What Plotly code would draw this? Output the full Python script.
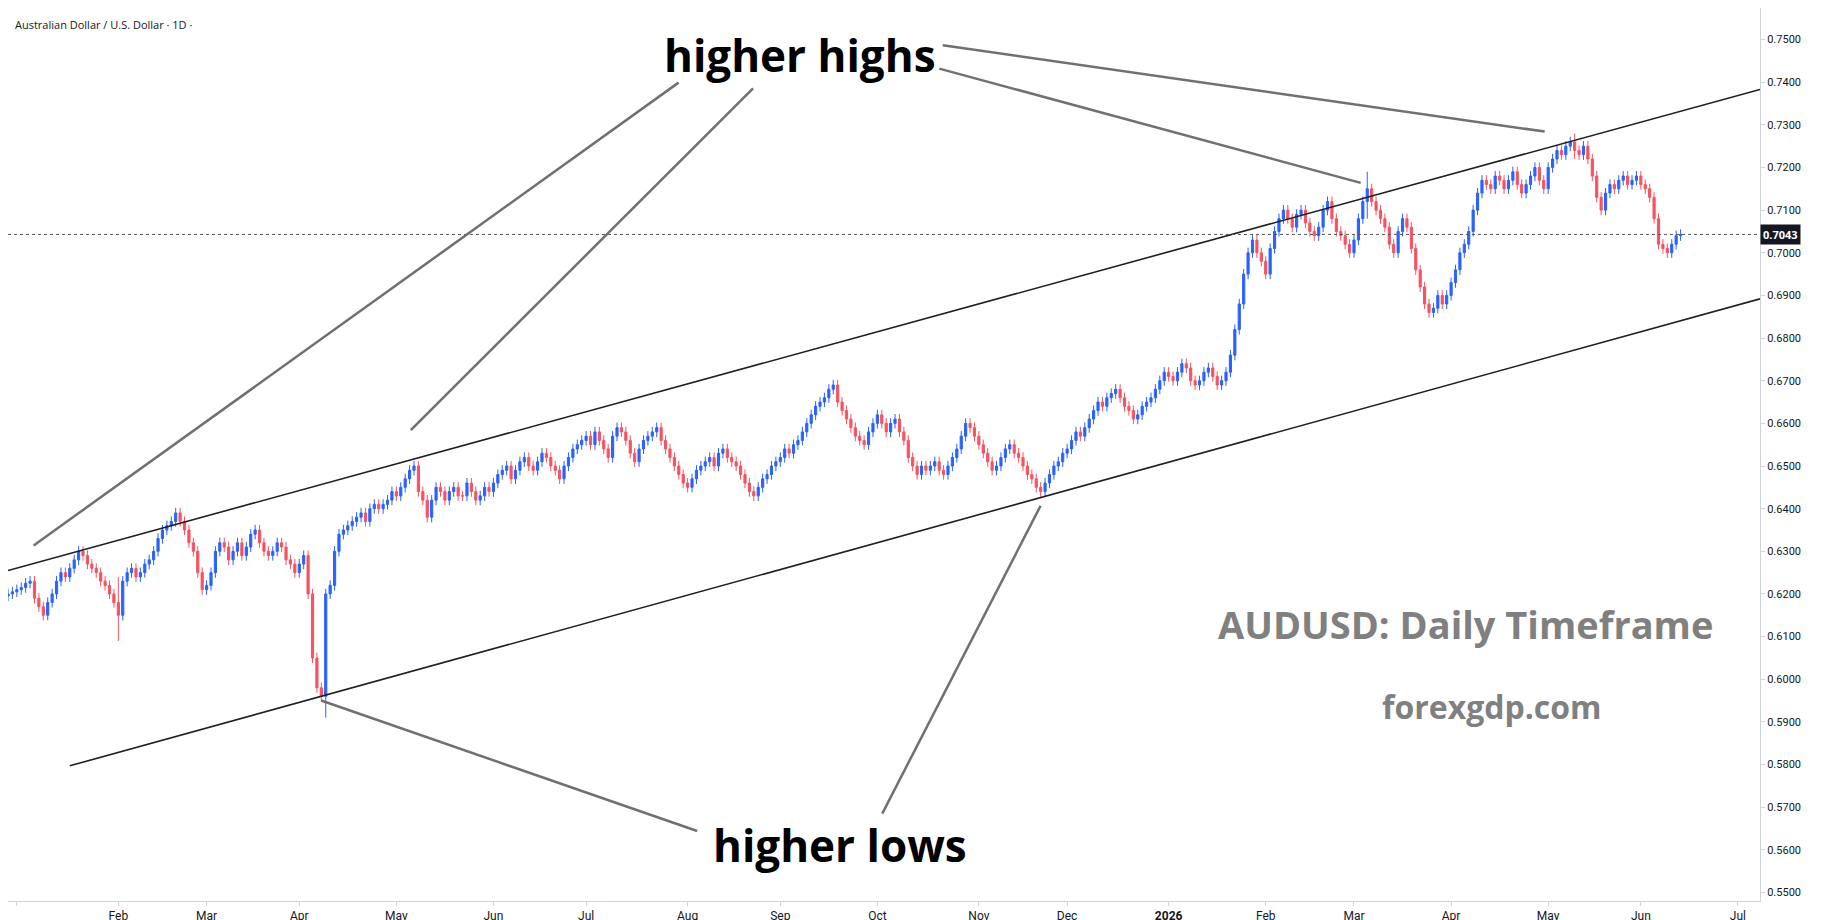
import pandas as pd
import plotly.graph_objects as go

# daily closes, one row per week (Mon..Fri), starting week of 2024-12-30
weekly_closes = [
    [0.6200, 0.6205, 0.6210, 0.6215, 0.6225],
    [0.6230, 0.6190, 0.6170, 0.6150, 0.6180],
    [0.6200, 0.6230, 0.6250, 0.6240, 0.6260],
    [0.6280, 0.6300, 0.6290, 0.6270, 0.6260],
    [0.6250, 0.6230, 0.6220, 0.6200, 0.6180],
    [0.6150, 0.6230, 0.6250, 0.6260, 0.6240],
    [0.6250, 0.6270, 0.6280, 0.6300, 0.6330],
    [0.6350, 0.6360, 0.6370, 0.6390, 0.6370],
    [0.6350, 0.6320, 0.6300, 0.6250, 0.6210],
    [0.6220, 0.6250, 0.6300, 0.6320, 0.6310],
    [0.6280, 0.6300, 0.6320, 0.6290, 0.6310],
    [0.6340, 0.6350, 0.6320, 0.6300, 0.6290],
    [0.6300, 0.6320, 0.6310, 0.6280, 0.6270],
    [0.6250, 0.6270, 0.6290, 0.6200, 0.6050],
    [0.5980, 0.5960, 0.6200, 0.6220, 0.6300],
    [0.6340, 0.6350, 0.6360, 0.6370, 0.6380],
    [0.6390, 0.6370, 0.6400, 0.6410, 0.6400],
    [0.6410, 0.6420, 0.6440, 0.6430, 0.6450],
    [0.6470, 0.6490, 0.6500, 0.6440, 0.6420],
    [0.6380, 0.6420, 0.6450, 0.6440, 0.6420],
    [0.6440, 0.6450, 0.6430, 0.6430, 0.6460],
    [0.6440, 0.6420, 0.6430, 0.6450, 0.6440],
    [0.6460, 0.6480, 0.6490, 0.6500, 0.6470],
    [0.6490, 0.6510, 0.6520, 0.6500, 0.6490],
    [0.6510, 0.6530, 0.6520, 0.6500, 0.6490],
    [0.6470, 0.6500, 0.6520, 0.6540, 0.6550],
    [0.6560, 0.6570, 0.6550, 0.6580, 0.6560],
    [0.6540, 0.6520, 0.6570, 0.6590, 0.6580],
    [0.6560, 0.6530, 0.6510, 0.6540, 0.6560],
    [0.6570, 0.6580, 0.6590, 0.6560, 0.6540],
    [0.6520, 0.6500, 0.6480, 0.6460, 0.6450],
    [0.6470, 0.6490, 0.6500, 0.6510, 0.6520],
    [0.6500, 0.6530, 0.6540, 0.6520, 0.6510],
    [0.6500, 0.6480, 0.6460, 0.6440, 0.6430],
    [0.6450, 0.6470, 0.6480, 0.6500, 0.6510],
    [0.6520, 0.6540, 0.6530, 0.6550, 0.6560],
    [0.6580, 0.6600, 0.6620, 0.6640, 0.6650],
    [0.6660, 0.6680, 0.6690, 0.6650, 0.6630],
    [0.6610, 0.6590, 0.6570, 0.6560, 0.6550],
    [0.6580, 0.6600, 0.6620, 0.6600, 0.6580],
    [0.6600, 0.6610, 0.6580, 0.6560, 0.6520],
    [0.6500, 0.6480, 0.6500, 0.6490, 0.6500],
    [0.6510, 0.6490, 0.6480, 0.6500, 0.6520],
    [0.6540, 0.6570, 0.6600, 0.6590, 0.6570],
    [0.6550, 0.6530, 0.6510, 0.6490, 0.6500],
    [0.6520, 0.6540, 0.6550, 0.6530, 0.6520],
    [0.6500, 0.6480, 0.6470, 0.6450, 0.6440],
    [0.6460, 0.6480, 0.6500, 0.6510, 0.6530],
    [0.6540, 0.6560, 0.6580, 0.6570, 0.6590],
    [0.6610, 0.6630, 0.6650, 0.6640, 0.6660],
    [0.6670, 0.6680, 0.6660, 0.6640, 0.6630],
    [0.6610, 0.6620, 0.6640, 0.6650, 0.6660],
    [0.6680, 0.6700, 0.6720, 0.6710, 0.6700],
    [0.6720, 0.6740, 0.6730, 0.6700, 0.6690],
    [0.6700, 0.6720, 0.6730, 0.6710, 0.6690],
    [0.6700, 0.6720, 0.6760, 0.6820, 0.6880],
    [0.6950, 0.7000, 0.7030, 0.7000, 0.6980],
    [0.6950, 0.7010, 0.7050, 0.7080, 0.7100],
    [0.7080, 0.7060, 0.7090, 0.7100, 0.7070],
    [0.7050, 0.7040, 0.7060, 0.7100, 0.7120],
    [0.7080, 0.7050, 0.7040, 0.7020, 0.7000],
    [0.7030, 0.7080, 0.7120, 0.7150, 0.7120],
    [0.7100, 0.7080, 0.7060, 0.7020, 0.7000],
    [0.7050, 0.7080, 0.7060, 0.7010, 0.6960],
    [0.6920, 0.6880, 0.6860, 0.6870, 0.6900],
    [0.6880, 0.6900, 0.6930, 0.6960, 0.7000],
    [0.7020, 0.7050, 0.7100, 0.7140, 0.7170],
    [0.7160, 0.7150, 0.7180, 0.7170, 0.7150],
    [0.7170, 0.7190, 0.7160, 0.7140, 0.7160],
    [0.7180, 0.7200, 0.7170, 0.7150, 0.7200],
    [0.7220, 0.7240, 0.7230, 0.7250, 0.7260],
    [0.7240, 0.7230, 0.7250, 0.7220, 0.7180],
    [0.7130, 0.7100, 0.7140, 0.7160, 0.7150],
    [0.7170, 0.7180, 0.7160, 0.7170, 0.7180],
    [0.7160, 0.7150, 0.7130, 0.7080, 0.7020],
    [0.7010, 0.7000, 0.7020, 0.7040, 0.7043],
]
first_open = 0.6195
wick_extremes = {"2025-04-09": (0.6210, 0.5910), "2025-02-03": (0.6240, 0.6090),
                 "2026-03-05": (0.7190, 0.7080), "2026-05-11": (0.7280, 0.7220)}

upper_line = (["2024-12-30", "2026-07-08"], [0.6255, 0.7383])
lower_line = (["2025-01-17", "2026-07-08"], [0.5797, 0.6892])
last_price = 0.7043

# first trading day of each month (weekends are removed from the axis)
month_ticks = ["2025-01-01", "2025-02-03", "2025-03-03", "2025-04-01", "2025-05-01", "2025-06-02",
               "2025-07-01", "2025-08-01", "2025-09-01", "2025-10-01", "2025-11-03", "2025-12-01",
               "2026-01-01", "2026-02-02", "2026-03-02", "2026-04-01", "2026-05-01", "2026-06-01",
               "2026-07-01"]
month_labels = ["2025", "Feb", "Mar", "Apr", "May", "Jun", "Jul", "Aug", "Sep", "Oct", "Nov", "Dec",
                "<b>2026</b>", "Feb", "Mar", "Apr", "May", "Jun", "Jul"]

closes = [c for week in weekly_closes for c in week]
dates = pd.bdate_range("2024-12-30", periods=len(closes))
opens = [first_open] + closes[:-1]
wick = 0.0012
highs, lows = [], []
for d, o, c in zip(dates, opens, closes):
    h, l = max(o, c) + wick, min(o, c) - wick
    key = d.strftime("%Y-%m-%d")
    if key in wick_extremes:
        h, l = max(h, wick_extremes[key][0]), min(l, wick_extremes[key][1])
    highs.append(h)
    lows.append(l)

fig = go.Figure()
fig.add_trace(go.Candlestick(
    x=dates, open=opens, high=highs, low=lows, close=closes,
    increasing=dict(line=dict(color="#2962FF", width=1), fillcolor="#2962FF"),
    decreasing=dict(line=dict(color="#F7525F", width=1), fillcolor="#F7525F"),
    whiskerwidth=0, showlegend=False, hoverinfo="skip"))
for xs, ys in (upper_line, lower_line):
    fig.add_trace(go.Scatter(x=xs, y=ys, mode="lines", line=dict(color="#1f1f1f", width=1.6),
                             showlegend=False, hoverinfo="skip"))

fig.add_hline(y=last_price, line=dict(color="#555", width=1, dash="dot"))

# pointer lines (paper coords)
W, H = 1505.0, 766.0
pointers = [(22, 461, 576, 64), (346, 362, 640, 69), (800, 52, 1162, 150), (803, 32, 1320, 106),
            (269, 594, 592, 706), (887, 427, 751, 691)]
for x0, y0, x1, y1 in pointers:
    fig.add_shape(type="line", xref="paper", yref="paper", x0=x0 / W, y0=1 - y0 / H,
                  x1=x1 / W, y1=1 - y1 / H, line=dict(color="#707070", width=2.5))

def txt(s, x, y, size, color, anchor="center"):
    fig.add_annotation(text=s, xref="paper", yref="paper", x=x / W, y=1 - y / H, showarrow=False,
                       font=dict(size=size, color=color, family="Open Sans"),
                       xanchor=anchor, yanchor="middle")

txt("<b>higher highs</b>", 680, 40, 44, "#000")
txt("<b>higher lows</b>", 715, 718, 44, "#000")
txt("<b>AUDUSD: Daily Timeframe</b>", 1252, 528, 38, "#808080")
txt("<b>forexgdp.com</b>", 1275, 599, 32, "#808080")
txt("Australian Dollar / U.S. Dollar · 1D ·", 4, 14, 11, "#131722", "left")
fig.add_annotation(text="<b>0.7043</b>", xref="paper", yref="y", x=1.0, y=last_price, showarrow=False,
                   xanchor="left", bgcolor="#131722", font=dict(size=11, color="white"),
                   borderpad=2)

fig.update_layout(
    width=1824, height=920, plot_bgcolor="white", paper_bgcolor="white",
    margin=dict(l=0, r=72, t=0, b=27),
    xaxis=dict(range=["2024-12-30", "2026-07-08"], rangeslider=dict(visible=False),
               rangebreaks=[dict(bounds=["sat", "mon"])], tickvals=month_ticks, ticktext=month_labels,
               showgrid=False, showline=True, linecolor="#d0d3da", ticks="outside", ticklen=4,
               tickcolor="#d0d3da", tickfont=dict(size=12, color="#131722", family="Roboto")),
    yaxis=dict(side="right", range=[0.548, 0.7574], dtick=0.01, tickformat=".4f",
               showgrid=False, showline=True, linecolor="#d0d3da", ticks="outside", ticklen=4,
               tickcolor="#d0d3da", tickfont=dict(size=11, color="#131722", family="Roboto")),
)
fig.write_html("out.html")
